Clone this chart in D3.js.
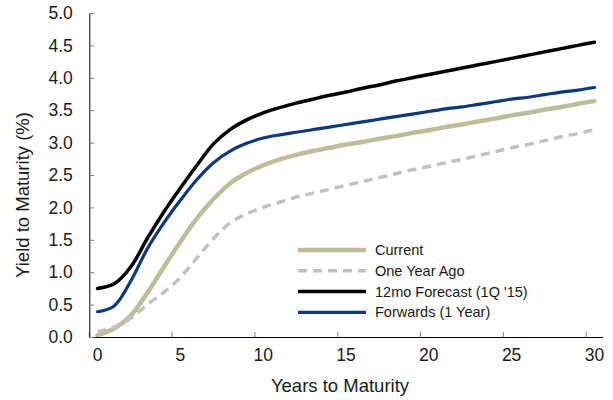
<!DOCTYPE html>
<html>
<head>
<meta charset="utf-8">
<script src="https://cdn.jsdelivr.net/npm/d3@7"></script>
<style>
  body { margin: 0; background: #fff; }
  text { font-family: "Liberation Sans", Arial, sans-serif; fill: #1a1a1a; }
</style>
</head>
<body>
<div id="content"></div>
<script>
// years to maturity (categories)
var years = d3.range(0, 31);
var xTickLabels = [0, 5, 10, 15, 20, 25, 30];
var yTickLabels = [0, 0.5, 1, 1.5, 2, 2.5, 3, 3.5, 4, 4.5, 5];

var current = [0.03, 0.13, 0.33, 0.68, 1.08, 1.47, 1.83, 2.13, 2.37, 2.53, 2.65, 2.74, 2.81, 2.87, 2.92, 2.97,
  3.01, 3.06, 3.10, 3.15, 3.19, 3.24, 3.28, 3.33, 3.37, 3.42, 3.46, 3.51, 3.55, 3.60, 3.64];
var oneYearAgo = [0.08, 0.15, 0.29, 0.50, 0.69, 0.92, 1.22, 1.52, 1.76, 1.90, 2.00, 2.08, 2.16, 2.22, 2.28, 2.34,
  2.40, 2.46, 2.52, 2.58, 2.63, 2.69, 2.74, 2.80, 2.86, 2.92, 2.97, 3.03, 3.09, 3.14, 3.20];
var forecast = [0.75, 0.82, 1.08, 1.52, 1.93, 2.30, 2.65, 2.98, 3.20, 3.35, 3.46, 3.54, 3.61, 3.67, 3.73, 3.78,
  3.84, 3.89, 3.95, 4.00, 4.05, 4.10, 4.15, 4.20, 4.25, 4.30, 4.35, 4.40, 4.45, 4.50, 4.55];
var forwards = [0.39, 0.48, 0.86, 1.36, 1.76, 2.11, 2.43, 2.69, 2.87, 2.99, 3.07, 3.12, 3.16, 3.20, 3.24, 3.28,
  3.32, 3.36, 3.40, 3.44, 3.48, 3.52, 3.55, 3.59, 3.63, 3.67, 3.70, 3.74, 3.78, 3.81, 3.85];

var seriesNames = ["Current", "One Year Ago", "12mo Forecast (1Q '15)", "Forwards (1 Year)"];
var seriesValues = [current, oneYearAgo, forecast, forwards];
var seriesColors = ["#bdbd98", "#c0c1c5", "#000000", "#0c3880"];
var seriesWidths = [4.5, 3.5, 3.5, 3.2];
var seriesDash = [null, "9,6", null, null];

var width = 613, height = 400;
var plotLeft = 89.3, plotRight = 602.7, plotTop = 13, plotBottom = 337;

var svg = d3.select("#content").append("svg")
  .attr("width", width)
  .attr("height", height);

var x_scale = d3.scaleBand().domain(years).range([plotLeft, plotRight]);
var y_scale = d3.scaleLinear().domain([0, 5]).range([plotBottom, plotTop]);
var half = x_scale.bandwidth() / 2;
var cx = function(d) { return x_scale(d) + half; };

// x axis: ticks between categories, labels on category centres
var xAxis = svg.append("g")
  .attr("transform", "translate(0," + plotBottom + ")")
  .call(d3.axisBottom(x_scale).tickValues(xTickLabels).tickSizeInner(-5).tickSizeOuter(0).tickPadding(12));
xAxis.selectAll(".tick line").attr("transform", "translate(" + (-half) + ",0)").attr("stroke", "#808080");
xAxis.select(".domain").attr("stroke", "#000");
xAxis.selectAll("text").style("font-size", "17.5px").attr("fill", "#1a1a1a")
  .style("font-family", "Liberation Sans, Arial, sans-serif");

var yAxis = svg.append("g")
  .attr("transform", "translate(" + plotLeft + ",0)")
  .call(d3.axisLeft(y_scale).tickValues(yTickLabels).tickFormat(d3.format(".1f"))
    .tickSizeInner(-5).tickSizeOuter(0).tickPadding(16.5));
yAxis.selectAll(".tick line").attr("stroke", "#808080");
yAxis.select(".domain").attr("stroke", "#000");
yAxis.selectAll("text").style("font-size", "17.5px").attr("fill", "#1a1a1a")
  .style("font-family", "Liberation Sans, Arial, sans-serif");

// axis titles
svg.append("text")
  .attr("x", 340).attr("y", 392)
  .attr("text-anchor", "middle")
  .style("font-size", "18.5px")
  .text("Years to Maturity");

svg.append("text")
  .attr("transform", "translate(29,195) rotate(-90)")
  .attr("text-anchor", "middle")
  .style("font-size", "18.5px")
  .text("Yield to Maturity (%)");

// lines
var line = d3.line()
  .x(function(d, i) { return cx(years[i]); })
  .y(function(d) { return y_scale(d); })
  .curve(d3.curveCatmullRom.alpha(0.5));

svg.selectAll("path.series")
  .data(seriesValues)
  .enter()
  .append("path")
  .attr("class", "series")
  .attr("d", line)
  .attr("fill", "none")
  .attr("stroke", function(d, i) { return seriesColors[i]; })
  .attr("stroke-width", function(d, i) { return seriesWidths[i]; })
  .attr("stroke-dasharray", function(d, i) { return seriesDash[i]; })
  .attr("stroke-linecap", function(d, i) { return seriesDash[i] ? "butt" : "round"; });

// legend
var legend = svg.append("g").attr("transform", "translate(298,250)");
var rows = legend.selectAll("g")
  .data(seriesNames)
  .enter()
  .append("g")
  .attr("transform", function(d, i) { return "translate(0," + (i * 20.8) + ")"; });

rows.append("line")
  .attr("x1", 0).attr("x2", 68)
  .attr("stroke", function(d, i) { return seriesColors[i]; })
  .attr("stroke-width", function(d, i) { return seriesWidths[i]; })
  .attr("stroke-dasharray", function(d, i) { return seriesDash[i]; });

rows.append("text")
  .attr("x", 77).attr("y", 5)
  .style("font-size", "14.5px")
  .text(function(d) { return d; });
</script>
</body>
</html>
